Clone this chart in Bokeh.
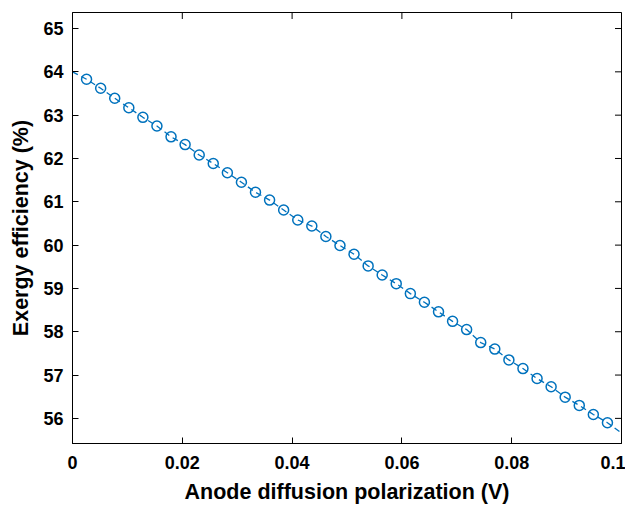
import math
from bokeh.plotting import figure
from bokeh.models import FixedTicker, NumeralTickFormatter, Range1d
from bokeh.embed import file_html
from bokeh.resources import INLINE

# Anode diffusion polarization (V)
polarization = [0.0, 0.00256, 0.00513, 0.00769, 0.01026, 0.01282, 0.01538, 0.01795,
                0.02051, 0.02308, 0.02564, 0.02821, 0.03077, 0.03333, 0.03590, 0.03846,
                0.04103, 0.04359, 0.04615, 0.04872, 0.05128, 0.05385, 0.05641, 0.05897,
                0.06154, 0.06410, 0.06667, 0.06923, 0.07179, 0.07436, 0.07692, 0.07949,
                0.08205, 0.08462, 0.08718, 0.08974, 0.09231, 0.09487, 0.09744, 0.1]
# Exergy efficiency (%)
efficiency = [64.00, 63.83, 63.62, 63.39, 63.17, 62.95, 62.75, 62.50, 62.32, 62.08,
              61.885, 61.67, 61.45, 61.22, 61.04, 60.81, 60.58, 60.44, 60.20, 59.99,
              59.79, 59.52, 59.31, 59.11, 58.88, 58.68, 58.46, 58.24, 58.05, 57.75,
              57.60, 57.35, 57.15, 56.92, 56.73, 56.49, 56.30, 56.09, 55.90, 55.66]

x_ticks = [0, 0.02, 0.04, 0.06, 0.08, 0.1]
y_ticks = [56, 57, 58, 59, 60, 61, 62, 63, 64, 65]
x_lim = (0, 0.1)
y_lim = (55.42, 65.37)

FONT = "Liberation Sans"
BLUE = "#0072BD"

p = figure(frame_width=549, frame_height=431, output_backend="svg", toolbar_location=None,
           x_range=Range1d(*x_lim), y_range=Range1d(*y_lim),
           min_border_left=72, min_border_right=4, min_border_top=12, min_border_bottom=55)

p.xgrid.visible = False
p.ygrid.visible = False
p.outline_line_color = "black"
p.outline_line_width = 1
p.outline_line_alpha = 1
p.background_fill_color = "white"
p.border_fill_color = "white"

p.line(polarization, efficiency, line_color=BLUE, line_width=1.3, line_dash="6 4")
p.scatter(polarization[1:-1], efficiency[1:-1], marker="circle", size=10,
          fill_color=None, line_color=BLUE, line_width=1.5)

# inward ticks on the top and right frame edges (half of each dash is clipped by the frame)
p.scatter(x_ticks, [y_lim[1]] * len(x_ticks), marker="dash", size=13, angle=math.pi / 2,
          line_color="black", line_width=1)
p.scatter([x_lim[1]] * len(y_ticks), y_ticks, marker="dash", size=13,
          line_color="black", line_width=1)

for ax in (p.xaxis[0], p.yaxis[0]):
    ax.axis_line_color = "black"
    ax.major_tick_in = 6
    ax.major_tick_out = 0
    ax.minor_tick_line_color = None
    ax.major_tick_line_color = "black"
    ax.major_label_text_font = FONT
    ax.major_label_text_font_style = "bold"
    ax.major_label_text_color = "black"
    ax.major_label_text_font_size = "18px"
    ax.axis_label_text_font = FONT
    ax.axis_label_text_font_style = "bold"
    ax.axis_label_text_font_size = "21.5px"
    ax.axis_label_text_color = "black"

p.xaxis.ticker = FixedTicker(ticks=x_ticks)
p.xaxis.formatter = NumeralTickFormatter(format="0.[00]")
p.xaxis.axis_label = "Anode diffusion polarization (V)"
p.yaxis.ticker = FixedTicker(ticks=y_ticks)
p.yaxis.axis_label = "Exergy efficiency (%)"
p.xaxis.major_label_standoff = 12
p.yaxis.major_label_standoff = 9
p.xaxis.axis_label_standoff = 8
p.yaxis.axis_label_standoff = 7

open("out.html", "w").write(file_html(p, INLINE))
